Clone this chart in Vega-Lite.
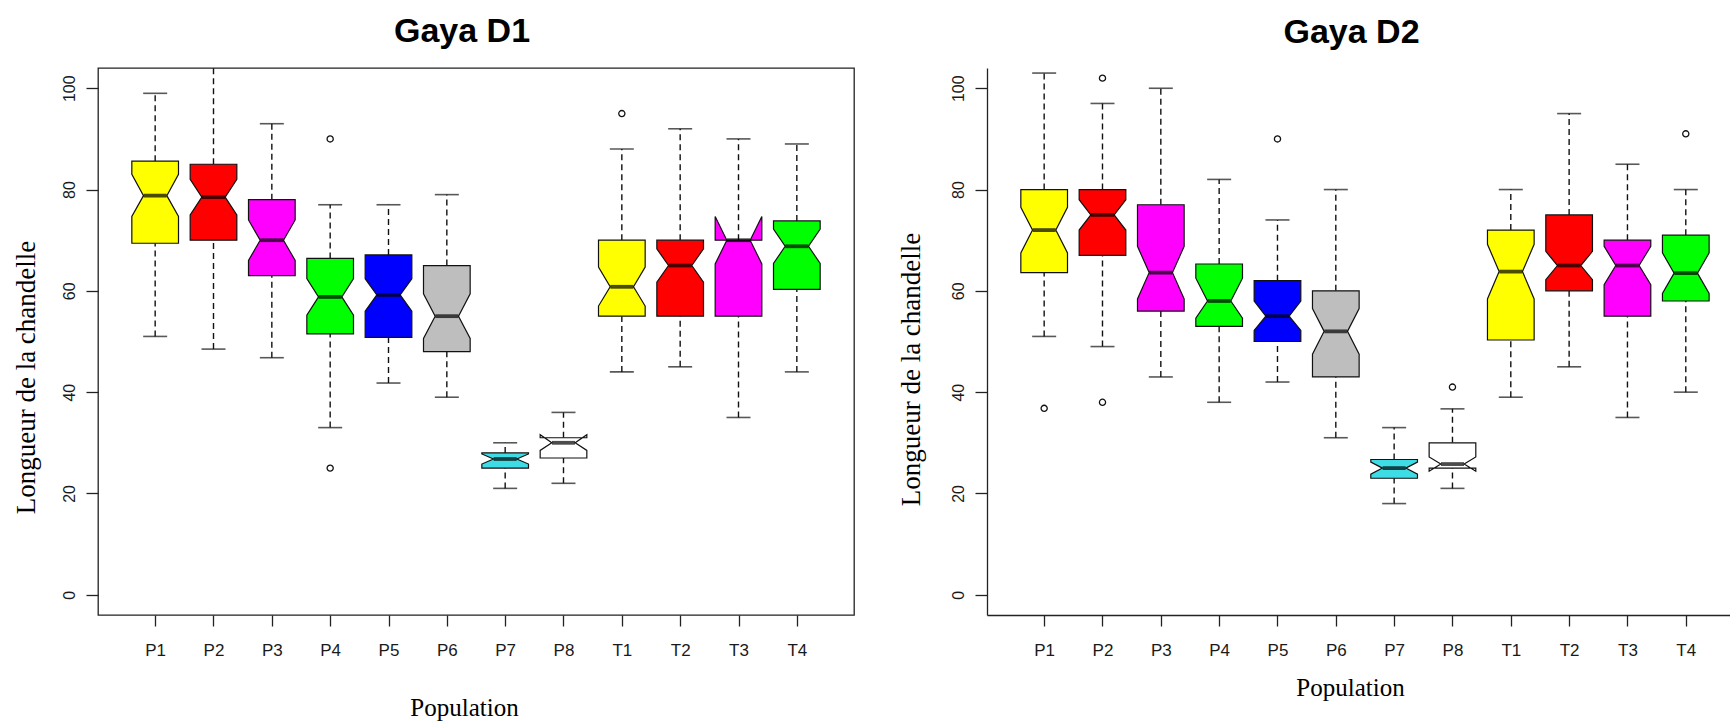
{
  "$schema": "https://vega.github.io/schema/vega-lite/v6.json",
  "background": "white",
  "padding": {"left": 11, "top": 14, "right": 0, "bottom": 0},
  "autosize": {"type": "pad"},
  "bounds": "flush",
  "spacing": 133,
  "config": {
    "font": "Liberation Sans",
    "view": {"stroke": null},
    "axis": {
      "grid": false,
      "domainColor": "#222222",
      "domainWidth": 1.3,
      "tickColor": "#222222",
      "tickWidth": 1.3,
      "labelColor": "#1a1a1a",
      "labelFont": "Liberation Sans",
      "labelFontSize": 17,
      "titleFont": "Liberation Serif",
      "titleFontSize": 27,
      "titleFontWeight": "normal",
      "titleColor": "#000000"
    }
  },
  "datasets": {
    "d1": [
      {"pop": "P1", "lo": 51, "q1": 69.4, "med": 78.8, "q3": 85.6, "hi": 99, "nlo": 74.7, "nhi": 83.0},
      {"pop": "P2", "lo": 48.5, "q1": 70, "med": 78.5, "q3": 85, "hi": 104, "nlo": 75, "nhi": 82},
      {"pop": "P3", "lo": 46.8, "q1": 63, "med": 70, "q3": 78, "hi": 93, "nlo": 66, "nhi": 74},
      {"pop": "P4", "lo": 33, "q1": 51.5, "med": 58.8, "q3": 66.4, "hi": 77, "nlo": 55.2, "nhi": 62.4},
      {"pop": "P5", "lo": 41.8, "q1": 50.8, "med": 59.2, "q3": 67.1, "hi": 77, "nlo": 56, "nhi": 62.4},
      {"pop": "P6", "lo": 39, "q1": 48, "med": 55, "q3": 65, "hi": 79, "nlo": 50.6, "nhi": 59.4},
      {"pop": "P7", "lo": 21, "q1": 25, "med": 26.8, "q3": 28, "hi": 30, "nlo": 25.8, "nhi": 27.8},
      {"pop": "P8", "lo": 22, "q1": 27, "med": 30, "q3": 31, "hi": 36, "nlo": 28.5, "nhi": 31.6},
      {"pop": "T1", "lo": 44, "q1": 55, "med": 60.8, "q3": 70, "hi": 88, "nlo": 57, "nhi": 64.7},
      {"pop": "T2", "lo": 45, "q1": 55, "med": 65, "q3": 70, "hi": 92, "nlo": 61.7, "nhi": 68.3},
      {"pop": "T3", "lo": 35, "q1": 55, "med": 70, "q3": 70, "hi": 90, "nlo": 65.3, "nhi": 74.7},
      {"pop": "T4", "lo": 44, "q1": 60.3, "med": 68.8, "q3": 73.8, "hi": 89, "nlo": 65.4, "nhi": 72.2}
    ],
    "o1": [
      {"pop": "P4", "v": 90},
      {"pop": "P4", "v": 25},
      {"pop": "T1", "v": 95}
    ],
    "d2": [
      {"pop": "P1", "lo": 51, "q1": 63.6, "med": 72, "q3": 80, "hi": 103, "nlo": 67.5, "nhi": 76.5},
      {"pop": "P2", "lo": 49, "q1": 67, "med": 75, "q3": 80, "hi": 97, "nlo": 72, "nhi": 78},
      {"pop": "P3", "lo": 43, "q1": 56, "med": 63.6, "q3": 77, "hi": 100, "nlo": 58.4, "nhi": 68.8},
      {"pop": "P4", "lo": 38, "q1": 53, "med": 58, "q3": 65.3, "hi": 82, "nlo": 54.6, "nhi": 62.5},
      {"pop": "P5", "lo": 42, "q1": 50, "med": 55, "q3": 62, "hi": 74, "nlo": 52.2, "nhi": 58},
      {"pop": "P6", "lo": 31, "q1": 43, "med": 52, "q3": 60, "hi": 80, "nlo": 47.5, "nhi": 56.5},
      {"pop": "P7", "lo": 18, "q1": 23, "med": 25, "q3": 26.7, "hi": 33, "nlo": 23.8, "nhi": 26.2},
      {"pop": "P8", "lo": 21, "q1": 25, "med": 25.8, "q3": 30, "hi": 36.7, "nlo": 24.4, "nhi": 27.2},
      {"pop": "T1", "lo": 39, "q1": 50.3, "med": 63.8, "q3": 72, "hi": 80, "nlo": 58.4, "nhi": 69.2},
      {"pop": "T2", "lo": 45, "q1": 60, "med": 65, "q3": 75, "hi": 95, "nlo": 62.2, "nhi": 67.8},
      {"pop": "T3", "lo": 35, "q1": 55, "med": 65, "q3": 70, "hi": 85, "nlo": 61.2, "nhi": 68.8},
      {"pop": "T4", "lo": 40, "q1": 58, "med": 63.5, "q3": 71, "hi": 80, "nlo": 59.5, "nhi": 67.5}
    ],
    "o2": [
      {"pop": "P1", "v": 36.8},
      {"pop": "P2", "v": 102},
      {"pop": "P2", "v": 38},
      {"pop": "P5", "v": 90},
      {"pop": "P8", "v": 41},
      {"pop": "T4", "v": 91}
    ]
  },
  "hconcat": [
    {
      "width": 756,
      "height": 547,
      "view": {"stroke": "#222222", "strokeWidth": 1.3},
      "title": {"text": "Gaya D1", "font": "Liberation Sans", "fontSize": 34, "fontWeight": "bold", "anchor": "middle", "baseline": "alphabetic", "offset": -9, "dx": -14, "color": "#000000"},
      "layer": [
        {
          "data": {"name": "d1"},
          "transform": [
            {"calculate": "indexof(['P1','P2','P3','P4','P5','P6','P7','P8','T1','T2','T3','T4'], datum.pop) + 1", "as": "i"}
          ],
          "mark": {"type": "rule", "strokeDash": [6, 4], "strokeWidth": 1.4, "color": "#111111"},
          "encoding": {
            "x": {"field": "i", "type": "quantitative", "scale": {"domain": [0.02, 12.98], "nice": false, "zero": false}},
            "y": {"field": "q3", "type": "quantitative", "scale": {"domain": [-4, 104], "nice": false, "zero": false}},
            "y2": {"field": "hi"}
          }
        },
        {
          "data": {"name": "d1"},
          "transform": [
            {"calculate": "indexof(['P1','P2','P3','P4','P5','P6','P7','P8','T1','T2','T3','T4'], datum.pop) + 1", "as": "i"}
          ],
          "mark": {"type": "rule", "strokeDash": [6, 4], "strokeWidth": 1.4, "color": "#111111"},
          "encoding": {
            "x": {"field": "i", "type": "quantitative"},
            "y": {"field": "lo", "type": "quantitative"},
            "y2": {"field": "q1"}
          }
        },
        {
          "data": {"name": "d1"},
          "transform": [
            {"calculate": "indexof(['P1','P2','P3','P4','P5','P6','P7','P8','T1','T2','T3','T4'], datum.pop) + 1", "as": "i"},
            {"fold": ["lo", "hi"], "as": ["k", "w"]},
            {"filter": "datum.w < 104"}
          ],
          "mark": {"type": "tick", "orient": "horizontal", "size": 24, "thickness": 1.6, "color": "#111111"},
          "encoding": {
            "x": {"field": "i", "type": "quantitative"},
            "y": {"field": "w", "type": "quantitative"}
          }
        },
        {
          "data": {"name": "d1"},
          "transform": [
            {"calculate": "indexof(['P1','P2','P3','P4','P5','P6','P7','P8','T1','T2','T3','T4'], datum.pop) + 1", "as": "i"},
            {"fold": ["q1", "nlo", "med", "nhi", "q3"], "as": ["k", "yv"]},
            {"calculate": "indexof(['q1','nlo','med','nhi','q3'], datum.k)", "as": "idx"},
            {"calculate": "datum.k === 'med' ? 0.2 : 0.4", "as": "hw"},
            {"calculate": "datum.i + datum.hw", "as": "xr"},
            {"calculate": "datum.i - datum.hw", "as": "xl"},
            {"fold": ["xr", "xl"], "as": ["side", "xv"]},
            {"calculate": "datum.side === 'xr' ? datum.idx : 9 - datum.idx", "as": "o"}
          ],
          "mark": {"type": "line", "interpolate": "linear-closed", "stroke": "#111111", "strokeWidth": 1.2, "opacity": 1},
          "encoding": {
            "y": {"field": "yv", "type": "quantitative",
              "axis": {"values": [0, 20, 40, 60, 80, 100], "domain": false, "tickSize": 12, "labelAngle": -90, "labelAlign": "center", "labelBaseline": "bottom", "labelPadding": 9, "labelFontSize": 16,
                "title": "Longueur de la chandelle", "titleAngle": -90, "titleX": -72, "titleY": 309, "titleAlign": "center", "titleBaseline": "middle"}},
            "x": {"field": "xv", "type": "quantitative",
              "axis": {"values": [1, 2, 3, 4, 5, 6, 7, 8, 9, 10, 11, 12], "domain": false, "tickSize": 11, "labelPadding": 16, "labelExpr": "['P1','P2','P3','P4','P5','P6','P7','P8','T1','T2','T3','T4'][datum.value - 1]",
                "title": "Population", "titleX": 366, "titleY": 92, "titleAlign": "center", "titleBaseline": "middle", "titleFontSize": 25}},
            "order": {"field": "o", "type": "quantitative"},
            "detail": {"field": "pop"},
            "fill": {"field": "pop", "type": "nominal", "legend": null,
              "scale": {"domain": ["P1","P2","P3","P4","P5","P6","P7","P8","T1","T2","T3","T4"],
                        "range": ["#FFFF00","#FF0000","#FF00FF","#00FF00","#0000FF","#BEBEBE","#3EDDE6","#FFFFFF","#FFFF00","#FF0000","#FF00FF","#00FF00"]}}
          }
        },
        {
          "data": {"name": "d1"},
          "transform": [
            {"calculate": "indexof(['P1','P2','P3','P4','P5','P6','P7','P8','T1','T2','T3','T4'], datum.pop) + 1", "as": "i"}
          ],
          "mark": {"type": "tick", "orient": "horizontal", "size": 23, "thickness": 3.8, "color": "#000000"},
          "encoding": {
            "x": {"field": "i", "type": "quantitative"},
            "y": {"field": "med", "type": "quantitative"}
          }
        },
        {
          "data": {"name": "o1"},
          "transform": [
            {"calculate": "indexof(['P1','P2','P3','P4','P5','P6','P7','P8','T1','T2','T3','T4'], datum.pop) + 1", "as": "i"}
          ],
          "mark": {"type": "point", "shape": "circle", "filled": false, "size": 38, "strokeWidth": 1.3, "color": "#111111", "opacity": 1},
          "encoding": {
            "x": {"field": "i", "type": "quantitative"},
            "y": {"field": "v", "type": "quantitative"}
          }
        }
      ]
    },
    {
      "width": 743,
      "height": 547,
      "view": {"stroke": null},
      "title": {"text": "Gaya D2", "font": "Liberation Sans", "fontSize": 34, "fontWeight": "bold", "anchor": "middle", "baseline": "alphabetic", "offset": -9, "dx": -7, "color": "#000000"},
      "layer": [
        {
          "mark": {"type": "rule", "color": "#222222", "strokeWidth": 1.3},
          "encoding": {
            "y": {"datum": 104, "type": "quantitative", "scale": {"domain": [-4, 104], "nice": false, "zero": false}}
          }
        },
        {
          "data": {"name": "d2"},
          "transform": [
            {"calculate": "indexof(['P1','P2','P3','P4','P5','P6','P7','P8','T1','T2','T3','T4'], datum.pop) + 1", "as": "i"}
          ],
          "mark": {"type": "rule", "strokeDash": [6, 4], "strokeWidth": 1.4, "color": "#111111"},
          "encoding": {
            "x": {"field": "i", "type": "quantitative", "scale": {"domain": [0.02, 12.758], "nice": false, "zero": false}},
            "y": {"field": "q3", "type": "quantitative"},
            "y2": {"field": "hi"}
          }
        },
        {
          "data": {"name": "d2"},
          "transform": [
            {"calculate": "indexof(['P1','P2','P3','P4','P5','P6','P7','P8','T1','T2','T3','T4'], datum.pop) + 1", "as": "i"}
          ],
          "mark": {"type": "rule", "strokeDash": [6, 4], "strokeWidth": 1.4, "color": "#111111"},
          "encoding": {
            "x": {"field": "i", "type": "quantitative"},
            "y": {"field": "lo", "type": "quantitative"},
            "y2": {"field": "q1"}
          }
        },
        {
          "data": {"name": "d2"},
          "transform": [
            {"calculate": "indexof(['P1','P2','P3','P4','P5','P6','P7','P8','T1','T2','T3','T4'], datum.pop) + 1", "as": "i"},
            {"fold": ["lo", "hi"], "as": ["k", "w"]}
          ],
          "mark": {"type": "tick", "orient": "horizontal", "size": 24, "thickness": 1.6, "color": "#111111"},
          "encoding": {
            "x": {"field": "i", "type": "quantitative"},
            "y": {"field": "w", "type": "quantitative"}
          }
        },
        {
          "data": {"name": "d2"},
          "transform": [
            {"calculate": "indexof(['P1','P2','P3','P4','P5','P6','P7','P8','T1','T2','T3','T4'], datum.pop) + 1", "as": "i"},
            {"fold": ["q1", "nlo", "med", "nhi", "q3"], "as": ["k", "yv"]},
            {"calculate": "indexof(['q1','nlo','med','nhi','q3'], datum.k)", "as": "idx"},
            {"calculate": "datum.k === 'med' ? 0.2 : 0.4", "as": "hw"},
            {"calculate": "datum.i + datum.hw", "as": "xr"},
            {"calculate": "datum.i - datum.hw", "as": "xl"},
            {"fold": ["xr", "xl"], "as": ["side", "xv"]},
            {"calculate": "datum.side === 'xr' ? datum.idx : 9 - datum.idx", "as": "o"}
          ],
          "mark": {"type": "line", "interpolate": "linear-closed", "stroke": "#111111", "strokeWidth": 1.2, "opacity": 1},
          "encoding": {
            "y": {"field": "yv", "type": "quantitative",
              "axis": {"values": [0, 20, 40, 60, 80, 100], "domain": true, "tickSize": 12, "labelAngle": -90, "labelAlign": "center", "labelBaseline": "bottom", "labelPadding": 9, "labelFontSize": 16,
                "title": "Longueur de la chandelle", "titleAngle": -90, "titleX": -76, "titleY": 301, "titleAlign": "center", "titleBaseline": "middle"}},
            "x": {"field": "xv", "type": "quantitative",
              "axis": {"values": [1, 2, 3, 4, 5, 6, 7, 8, 9, 10, 11, 12], "domain": true, "tickSize": 11, "labelPadding": 16, "labelExpr": "['P1','P2','P3','P4','P5','P6','P7','P8','T1','T2','T3','T4'][datum.value - 1]",
                "title": "Population", "titleX": 363, "titleY": 72, "titleAlign": "center", "titleBaseline": "middle", "titleFontSize": 25}},
            "order": {"field": "o", "type": "quantitative"},
            "detail": {"field": "pop"},
            "fill": {"field": "pop", "type": "nominal", "legend": null,
              "scale": {"domain": ["P1","P2","P3","P4","P5","P6","P7","P8","T1","T2","T3","T4"],
                        "range": ["#FFFF00","#FF0000","#FF00FF","#00FF00","#0000FF","#BEBEBE","#3EDDE6","#FFFFFF","#FFFF00","#FF0000","#FF00FF","#00FF00"]}}
          }
        },
        {
          "data": {"name": "d2"},
          "transform": [
            {"calculate": "indexof(['P1','P2','P3','P4','P5','P6','P7','P8','T1','T2','T3','T4'], datum.pop) + 1", "as": "i"}
          ],
          "mark": {"type": "tick", "orient": "horizontal", "size": 23, "thickness": 3.8, "color": "#000000"},
          "encoding": {
            "x": {"field": "i", "type": "quantitative"},
            "y": {"field": "med", "type": "quantitative"}
          }
        },
        {
          "data": {"name": "o2"},
          "transform": [
            {"calculate": "indexof(['P1','P2','P3','P4','P5','P6','P7','P8','T1','T2','T3','T4'], datum.pop) + 1", "as": "i"}
          ],
          "mark": {"type": "point", "shape": "circle", "filled": false, "size": 38, "strokeWidth": 1.3, "color": "#111111", "opacity": 1},
          "encoding": {
            "x": {"field": "i", "type": "quantitative"},
            "y": {"field": "v", "type": "quantitative"}
          }
        }
      ]
    }
  ]
}
